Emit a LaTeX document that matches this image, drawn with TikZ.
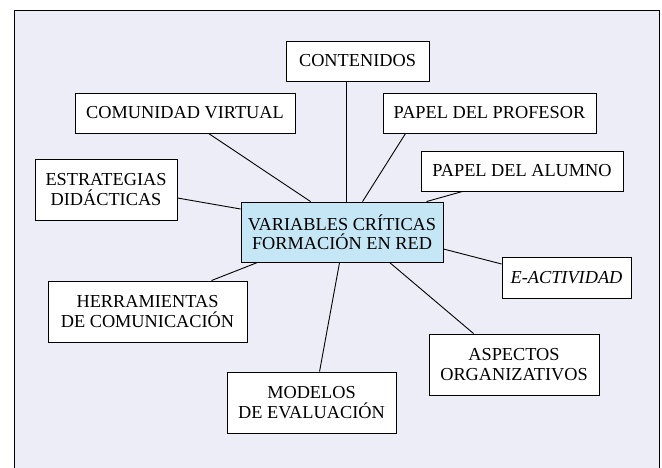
\documentclass[tikz,border=0pt]{standalone}
\usepackage{fontspec}
\setmainfont{Liberation Serif}
\definecolor{bgl}{RGB}{236,237,246}
\definecolor{cenblue}{RGB}{197,230,245}
\tikzset{
  box/.style={draw=black, fill=white, line width=0.9pt, inner sep=0pt, align=center,
    font=\fontsize{18.3}{19.5}\selectfont},
  link/.style={draw=black, line width=0.9pt}
}
\begin{document}
\begin{tikzpicture}[x=1pt,y=-1pt]
\useasboundingbox (0,0) rectangle (662,468);
\draw[fill=bgl, line width=1pt] (14.5,11) rectangle (659.5,490);

\node[box, minimum width=143pt, minimum height=40pt] (cont) at (357.5,61) {CONTENIDOS};
\node[box, minimum width=220pt, minimum height=40pt] (cv) at (185,113) {COMUNIDAD VIRTUAL};
\node[box, minimum width=213pt, minimum height=40pt] (pp) at (489.5,113) {PAPEL DEL PROFESOR};
\node[box, minimum width=202pt, minimum height=40pt] (pa) at (522,171) {PAPEL DEL ALUMNO};
\node[box, minimum width=142pt, minimum height=61pt] (ed) at (106,189.5) {ESTRATEGIAS\\DIDÁCTICAS};
\node[box, fill=cenblue, minimum width=202pt, minimum height=60pt] (cen) at (342,232) {VARIABLES CRÍTICAS\\FORMACIÓN EN RED};
\node[box, minimum width=129pt, minimum height=41pt] (ea) at (566.5,277.5) {\itshape E-ACTIVIDAD};
\node[box, minimum width=199pt, minimum height=61pt] (hc) at (147.5,311.5) {HERRAMIENTAS\\DE COMUNICACIÓN};
\node[box, minimum width=169pt, minimum height=61pt] (me) at (311.5,402.5) {MODELOS\\DE EVALUACIÓN};
\node[box, minimum width=170pt, minimum height=61pt] (ao) at (514,364.5) {ASPECTOS\\ORGANIZATIVOS};

\draw[link] ([xshift=61pt]cont.south west) -- ([xshift=106pt]cen.north west);
\draw[link] ([xshift=134pt]cv.south west) -- ([xshift=70pt]cen.north west);
\draw[link] ([xshift=23pt]pp.south west) -- ([xshift=122pt]cen.north west);
\draw[link] ([xshift=42pt]pa.south west) -- ([xshift=186pt]cen.north west);
\draw[link] ([yshift=-8.5pt]ed.east) -- ([yshift=23pt]cen.west);
\draw[link] ([yshift=-17pt]cen.east) -- ([yshift=13.5pt]ea.west);
\draw[link] ([xshift=17pt]cen.south west) -- ([xshift=-36pt]hc.north east);
\draw[link] ([xshift=99pt]cen.south west) -- ([xshift=93pt]me.north west);
\draw[link] ([xshift=149pt]cen.south west) -- ([xshift=45pt]ao.north west);
\end{tikzpicture}
\end{document}
